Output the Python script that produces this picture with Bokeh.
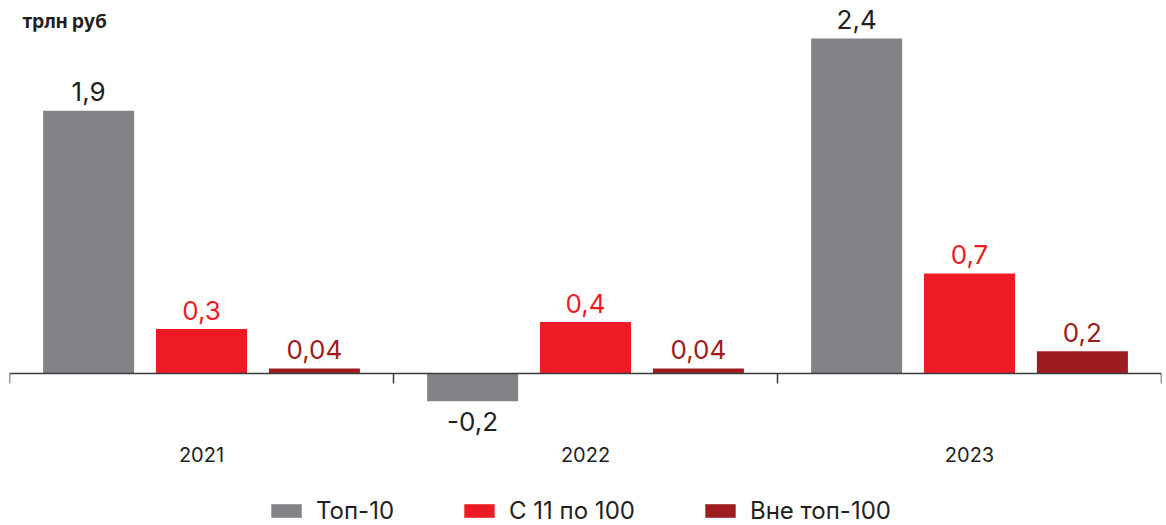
from bokeh.plotting import figure
from bokeh.models import ColumnDataSource, FactorRange, Range1d, Span, Label, Legend, LegendItem
from bokeh.transform import dodge
from bokeh.core.properties import value
from bokeh.embed import file_html
from bokeh.resources import INLINE

# ---- data ----
years = ["2021", "2022", "2023"]
series_names = ["Топ-10", "С 11 по 100", "Вне топ-100"]
top10 = [1.89, -0.20, 2.41]
from11to100 = [0.32, 0.37, 0.72]
outside100 = [0.036, 0.036, 0.16]
top10_labels = ["1,9", "-0,2", "2,4"]
from11to100_labels = ["0,3", "0,4", "0,7"]
outside100_labels = ["0,04", "0,04", "0,2"]
unit_label = "трлн руб"

bar_colors = ["#818286", "#ED1C24", "#9E1B20"]
label_colors = ["#231F20", "#ED1C24", "#9E1B20"]
FONT = "Inter"
TEXT = "#231F20"

series = [top10, from11to100, outside100]
series_labels = [top10_labels, from11to100_labels, outside100_labels]
offsets = [-0.294, 0.0, 0.294]

PX = 139.0          # pixels per unit
Y1 = 373 / PX
Y0 = -(525 - 373) / PX

p = figure(x_range=FactorRange(factors=years, range_padding=0),
           y_range=Range1d(Y0, Y1),
           width=1166, height=525, output_backend="svg", toolbar_location=None,
           y_axis_location=None, x_axis_location=None,
           min_border_left=9, min_border_right=5, min_border_top=0, min_border_bottom=0)
p.outline_line_color = None
p.xgrid.visible = False
p.ygrid.visible = False
p.background_fill_color = "white"

items = []
for name, vals, labs, off, bc, lc in zip(series_names, series, series_labels, offsets, bar_colors, label_colors):
    src = ColumnDataSource(dict(x=years, top=vals))
    r = p.vbar(x=dodge("x", off, range=p.x_range), top="top", bottom=0, width=0.237,
               fill_color=bc, line_color=None, source=src)
    items.append(LegendItem(label=name, renderers=[r]))
    pos = [i for i, v in enumerate(vals) if v >= 0]
    neg = [i for i, v in enumerate(vals) if v < 0]
    for idx, yoff in ((pos, -19), (neg, 20)):
        if not idx:
            continue
        s = ColumnDataSource(dict(x=[years[i] for i in idx], y=[vals[i] for i in idx],
                                  t=[labs[i] for i in idx]))
        p.text(x=dodge("x", off, range=p.x_range), y="y", text="t", source=s,
               text_align="center", text_baseline="middle", y_offset=yoff,
               text_font=value(FONT), text_font_size="26px", text_color=lc)

# zero baseline (category axis line) and category boundary ticks
p.add_layout(Span(location=0, dimension="width", line_color="#3c3c3c", line_width=1.3))
bounds = list(range(len(years) + 1))
p.segment(x0=bounds, y0=[0] * len(bounds), x1=bounds, y1=[-10 / PX] * len(bounds),
          line_color="#3c3c3c", line_width=1.5)

# category labels under the axis line
cat_src = ColumnDataSource(dict(x=years, y=[0] * len(years), t=years))
p.text(x="x", y="y", text="t", source=cat_src, text_align="center",
       text_baseline="middle", y_offset=81,
       text_font=value(FONT), text_font_size="20px", text_color=TEXT)

# unit label
p.add_layout(Label(x=0, y=Y1, x_offset=13, y_offset=-21, text=unit_label,
                   text_font=FONT, text_font_size="19px", text_font_style="bold",
                   text_color=TEXT, text_baseline="middle"))

legend = Legend(items=items, orientation="horizontal", location=(258, 0),
                glyph_width=38, glyph_height=17, label_standoff=11, spacing=66,
                padding=0, margin=0, border_line_color=None, background_fill_alpha=0,
                label_text_font=FONT, label_text_font_size="24px", label_text_color=TEXT)
p.add_layout(legend)

open("out.html", "w").write(file_html(p, INLINE))
